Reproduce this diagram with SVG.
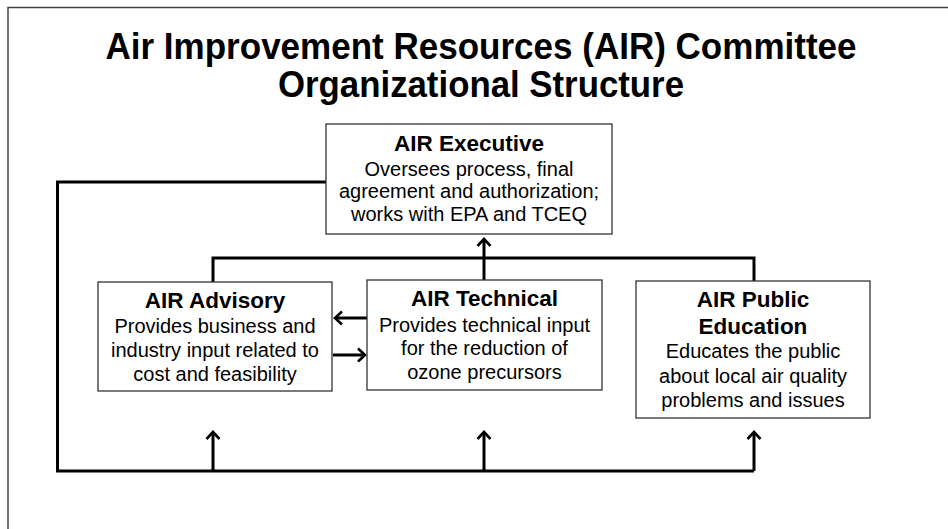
<svg xmlns="http://www.w3.org/2000/svg" width="948" height="529" viewBox="0 0 948 529">
<defs>
<marker id="ah" markerUnits="userSpaceOnUse" markerWidth="20" markerHeight="20" viewBox="-10 -10 20 20" refX="0" refY="0" orient="auto">
<path d="M -7 -6.5 L 0 0 L -7 6.5" fill="none" stroke="#000" stroke-width="2.6"/>
</marker>
</defs>
<style>
.frame{fill:none;stroke:#444;stroke-width:1.5}
.box{fill:#fff;stroke:#333;stroke-width:1.3}
.title{font-family:"Liberation Sans",Arial,sans-serif;font-weight:bold;font-size:36px;fill:#000;text-anchor:middle}
.bt{font-family:"Liberation Sans",Arial,sans-serif;font-weight:bold;font-size:22.5px;fill:#000;text-anchor:middle}
.tx{font-family:"Liberation Sans",Arial,sans-serif;font-size:20px;fill:#000;text-anchor:middle}
.c{fill:none;stroke:#000;stroke-width:3}
.a{fill:none;stroke:#000;stroke-width:3;marker-end:url(#ah)}
</style>
<rect width="948" height="529" fill="#fff"/>
<path class="frame" d="M 8 529 L 8 7.5 L 948 7.5"/>
<g id="title">
<text class="title" x="481" y="59" textLength="751" lengthAdjust="spacingAndGlyphs">Air Improvement Resources (AIR) Committee</text>
<text class="title" x="481" y="97" textLength="406" lengthAdjust="spacingAndGlyphs">Organizational Structure</text>
</g>
<g id="connectors">
<polyline class="c" points="326,182 57.5,182 57.5,471 754,471"/>
<line class="a" x1="213" y1="471" x2="213" y2="432"/>
<line class="a" x1="484" y1="471" x2="484" y2="432"/>
<line class="a" x1="754" y1="471" x2="754" y2="432"/>
<polyline class="c" points="213,282 213,258 754,258 754,281"/>
<line class="a" x1="484" y1="280" x2="484" y2="239"/>
<line class="a" x1="367" y1="318" x2="335" y2="318"/>
<line class="a" x1="333" y1="355" x2="365" y2="355"/>
</g>
<g id="executive">
<rect class="box" x="326" y="124" width="286" height="110"/>
<text class="bt" x="469" y="151">AIR Executive</text>
<text class="tx" x="469" y="176">Oversees process, final</text>
<text class="tx" x="469" y="198">agreement and authorization;</text>
<text class="tx" x="469" y="221">works with EPA and TCEQ</text>
</g>
<g id="advisory">
<rect class="box" x="98" y="282" width="234" height="109"/>
<text class="bt" x="215" y="308">AIR Advisory</text>
<text class="tx" x="215" y="333">Provides business and</text>
<text class="tx" x="215" y="357">industry input related to</text>
<text class="tx" x="215" y="381">cost and feasibility</text>
</g>
<g id="technical">
<rect class="box" x="367" y="280" width="235" height="110"/>
<text class="bt" x="484.5" y="306">AIR Technical</text>
<text class="tx" x="484.5" y="332">Provides technical input</text>
<text class="tx" x="484.5" y="355">for the reduction of</text>
<text class="tx" x="484.5" y="379">ozone precursors</text>
</g>
<g id="public-education">
<rect class="box" x="636" y="281" width="234" height="137"/>
<text class="bt" x="753" y="307">AIR Public</text>
<text class="bt" x="753" y="334">Education</text>
<text class="tx" x="753" y="358">Educates the public</text>
<text class="tx" x="753" y="383">about local air quality</text>
<text class="tx" x="753" y="407">problems  and issues</text>
</g>
</svg>
